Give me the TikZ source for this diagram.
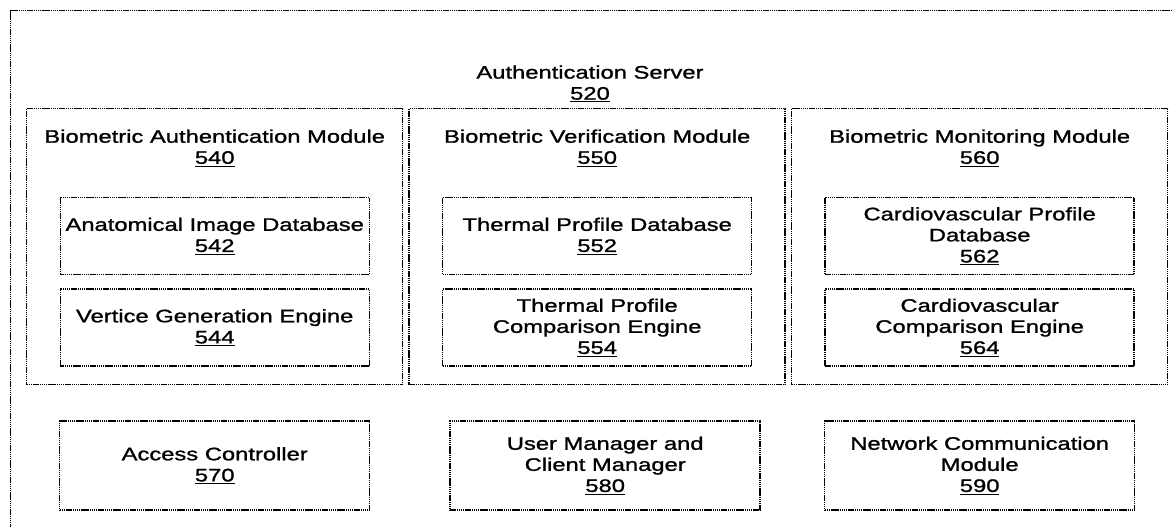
\documentclass[tikz,border=0pt]{standalone}
\usepackage{fontspec}
\setmainfont{Liberation Sans}[FakeStretch=1.31, FakeBold=1.2]
\usetikzlibrary{positioning}

\begin{document}
\begin{tikzpicture}[x=0.75pt, y=-0.75pt,
        every node/.style={font=\fontsize{13.6pt}{15.8pt}\selectfont, align=center},
        dotline/.style={line width=1.1pt, dash pattern=on 1.1pt off 0.5pt},
        modbox/.style={rectangle, draw=black, dotline, minimum width=282pt, minimum height=207pt, inner sep=0pt},
        inbox/.style={rectangle, draw=black, dotline, minimum width=231.75pt, minimum height=57.75pt, inner sep=0pt},
        unitbox/.style={rectangle, draw=black, dotline, minimum width=232.5pt, minimum height=66.75pt, inner sep=0pt},
        modtitle/.style={inner sep=0pt}
    ]
        \useasboundingbox (0,0) rectangle (1173,527);

        % Khung ngoai (may chu xac thuc)
        \begin{scope}
            \clip (0,0) rectangle (1173,527);
            \node (srv) [rectangle, draw=black, dotline, anchor=north west, minimum width=885pt, minimum height=405pt] at (10,10) {};
        \end{scope}
        \node (t520) [modtitle] at (590,84) {Authentication Server\\\underline{520}};

        % Ba module sinh trac
        \node (m540) [modbox, anchor=north west] at (26,108) {};
        \node (m550) [modbox, right=3.75pt of m540] {};
        \node (m560) [modbox, right=3.75pt of m550] {};

        \node (t540) [modtitle, below=16pt of m540.north] {Biometric Authentication Module\\\underline{540}};
        \node (t550) [modtitle, below=16pt of m550.north] {Biometric Verification Module\\\underline{550}};
        \node (t560) [modtitle, below=16pt of m560.north] {Biometric Monitoring Module\\\underline{560}};

        % Khoi ben trong
        \node (d542) [inbox, below=66.75pt of m540.north] {Anatomical Image Database\\\underline{542}};
        \node (g544) [inbox, below=9.75pt of d542] {Vertice Generation Engine\\\underline{544}};
        \node (d552) [inbox, below=66.75pt of m550.north] {Thermal Profile Database\\\underline{552}};
        \node (c554) [inbox, below=9.75pt of d552] {Thermal Profile\\Comparison Engine\\\underline{554}};
        \node (d562) [inbox, below=66.75pt of m560.north] {Cardiovascular Profile\\Database\\\underline{562}};
        \node (c564) [inbox, below=9.75pt of d562] {Cardiovascular\\Comparison Engine\\\underline{564}};

        % Hang duoi
        \node (a570) [unitbox, below=26.25pt of m540] {Access Controller\\\underline{570}};
        \node (u580) [unitbox, below=26.25pt of m550, xshift=6pt] {User Manager and\\Client Manager\\\underline{580}};
        \node (n590) [unitbox, below=26.25pt of m560] {Network Communication\\Module\\\underline{590}};

    \end{tikzpicture}
\end{document}
